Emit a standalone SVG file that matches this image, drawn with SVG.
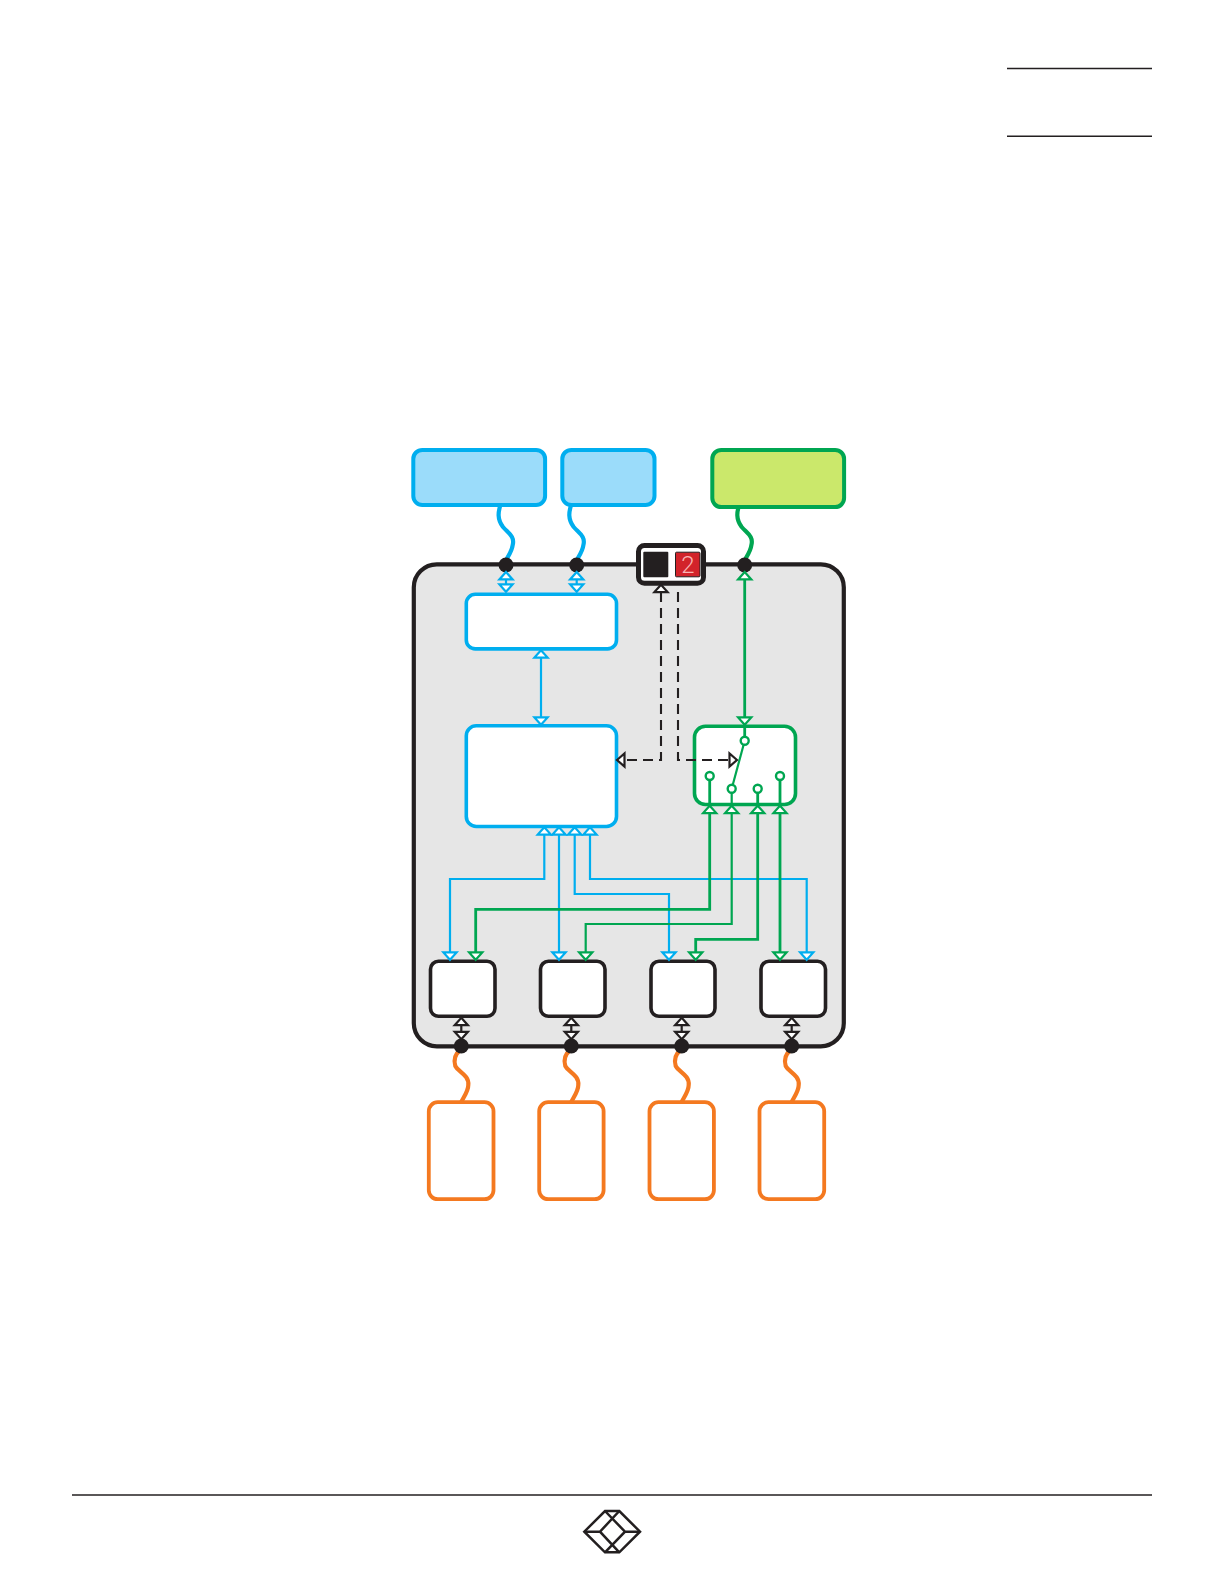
<svg xmlns="http://www.w3.org/2000/svg" width="1224" height="1584" viewBox="0 0 1224 1584">
<style>
.blue{stroke:#00aeef}.green{stroke:#00a651}.black{stroke:#231f20}.orange{stroke:#f47920}
.line{fill:none}
.t1{stroke-width:2.200}.t2{stroke-width:2.800}.w{stroke-width:4.200;stroke-linecap:round}
.box{fill:#fff;stroke-width:3.600}
.head{fill:#fff;stroke-width:2.200;stroke-linejoin:miter}
.dash{fill:none;stroke:#231f20;stroke-width:2.100;stroke-dasharray:10 6}
.dot{fill:#231f20}
.rule{stroke:#231f20;stroke-width:1.400;fill:none}
.pin{fill:#fff;stroke-width:2.400}
</style>
<defs>
<path id="up" d="M0,-3.800 L6.600,3.600 H-6.600 Z"/>
<path id="dn" d="M0,3.800 L6.600,-3.600 H-6.600 Z"/>
<path id="lt" d="M-4,0 L3.500,-6.500 V6.500 Z"/>
<path id="rt" d="M4,0 L-3.500,-6.500 V6.500 Z"/>
<path id="wire" d="M-5,-62 C-8,-53 -9,-46 -3,-38 C2,-32 9,-29 6.700,-20 C6,-14 3,-10 0,-5"/>
<path id="owire" d="M-1,4 C-6,8 -8,13 -6,20 C-3,26 8,29 7,39 C7,45 3,50 0,56"/>
</defs>

<line class="rule" x1="1007" y1="68.500" x2="1152" y2="68.500"/>
<line class="rule" x1="1007" y1="136.300" x2="1152" y2="136.300"/>
<line class="rule" style="stroke-width:1.700" x1="72" y1="1495" x2="1152" y2="1495"/>

<g id="enclosure"><rect x="413.800" y="564.300" width="430" height="482" rx="23" fill="#e6e6e6" stroke="#231f20" stroke-width="4.200"/></g>

<g id="matrix-top"><rect class="box blue" x="466.300" y="594.300" width="150.200" height="54.600" rx="9"/></g>
<g id="matrix-main"><rect class="box blue" x="466.300" y="725.800" width="150.200" height="100.700" rx="10"/></g>
<g id="switch"><rect class="box green" x="694.500" y="726.300" width="101" height="78.200" rx="11"/></g>
<g id="port-1"><rect class="box black" x="430.500" y="961.300" width="64.500" height="55" rx="8"/></g>
<g id="port-2"><rect class="box black" x="540.500" y="961.300" width="64.500" height="55" rx="8"/></g>
<g id="port-3"><rect class="box black" x="651" y="961.300" width="64" height="55" rx="8"/></g>
<g id="port-4"><rect class="box black" x="761" y="961.300" width="64.500" height="55" rx="8"/></g>

<g id="connectors">
<use href="#wire" x="506" y="565" class="line blue w"/>
<use href="#wire" x="576.700" y="565" class="line blue w"/>
<use href="#wire" x="744.700" y="565" class="line green w"/>
<use href="#owire" x="461.300" y="1046" class="line orange w"/>
<use href="#owire" x="571.300" y="1046" class="line orange w"/>
<use href="#owire" x="681.700" y="1046" class="line orange w"/>
<use href="#owire" x="791.700" y="1046" class="line orange w"/>

<path class="line blue t1" d="M506,576V588M576.700,576V588M541,655V721"/>
<path class="line blue t1" d="M544.300,831V879H450V956M559,831V956M574.700,831V894H669V956M590,831V879H806.700V956"/>
<path class="line green t2" d="M744.700,576V737"/>
<path class="line green t2" d="M709.700,780V909.300H475.700V956"/>
<path class="line green t1" d="M731.700,792V924H585.700V956"/>
<path class="line green t2" d="M757.700,792V939.300H695.700V956"/>
<path class="line green t2" d="M780,780V956"/>
<path class="dash" d="M661,592V760H622"/>
<path class="dash" d="M678,592V760H730"/>
<path class="line black t1" d="M461.300,1025V1032M571.300,1025V1032M681.700,1025V1032M791.700,1025V1032"/>
<path class="line green t1" d="M744.700,740.700L731.700,788.700"/>
</g>

<g id="source-a"><rect x="413.300" y="449.900" width="131.800" height="55.100" rx="9" fill="#9bdcfa" stroke="#00aeef" stroke-width="4"/></g>
<g id="source-b"><rect x="562.300" y="449.900" width="92.200" height="55.100" rx="9" fill="#9bdcfa" stroke="#00aeef" stroke-width="4"/></g>
<g id="source-c"><rect x="712.300" y="449.900" width="131.800" height="57.200" rx="9" fill="#cbe86b" stroke="#00a651" stroke-width="4"/></g>
<g id="device-1"><rect class="box orange" style="stroke-width:3.800" x="428.800" y="1102.200" width="64.700" height="97" rx="9"/></g>
<g id="device-2"><rect class="box orange" style="stroke-width:3.800" x="539.200" y="1102.200" width="64.400" height="97" rx="9"/></g>
<g id="device-3"><rect class="box orange" style="stroke-width:3.800" x="649.500" y="1102.200" width="64.400" height="97" rx="9"/></g>
<g id="device-4"><rect class="box orange" style="stroke-width:3.800" x="759.500" y="1102.200" width="64.700" height="97" rx="9"/></g>

<g id="display">
<rect x="638.500" y="545.500" width="65" height="37.700" rx="6" fill="#fff" stroke="#231f20" stroke-width="5"/>
<rect x="643.300" y="551.700" width="25" height="25.600" rx="1" fill="#231f20"/>
<rect x="675.500" y="552.200" width="24.500" height="24.600" rx="1" fill="#d2232a" stroke="#231f20"/>
<text x="687.800" y="573" text-anchor="middle" font-family="Roboto,sans-serif" font-weight="300" font-size="24" fill="#f9b4b4">2</text>
</g>

<g id="junctions">
<circle class="dot" cx="506" cy="565" r="7.500"/><circle class="dot" cx="576.700" cy="565" r="7.500"/><circle class="dot" cx="744.700" cy="565" r="7.500"/>
<circle class="dot" cx="461.300" cy="1046" r="7.500"/><circle class="dot" cx="571.300" cy="1046" r="7.500"/><circle class="dot" cx="681.700" cy="1046" r="7.500"/><circle class="dot" cx="791.700" cy="1046" r="7.500"/>
</g>

<g id="switch-pins">
<circle class="pin green" cx="744.700" cy="740.700" r="4"/>
<circle class="pin green" cx="709.700" cy="776" r="4"/>
<circle class="pin green" cx="731.700" cy="788.700" r="4"/>
<circle class="pin green" cx="757.700" cy="788.700" r="4"/>
<circle class="pin green" cx="780" cy="776" r="4"/>
</g>

<g id="arrowheads">
<g class="head blue">
<use href="#up" x="506" y="575.800"/><use href="#dn" x="506" y="588"/>
<use href="#up" x="576.700" y="575.800"/><use href="#dn" x="576.700" y="588"/>
<use href="#up" x="541" y="654"/><use href="#dn" x="541" y="721"/>
<use href="#up" x="544.300" y="831"/><use href="#up" x="559" y="831"/><use href="#up" x="574.700" y="831"/><use href="#up" x="590" y="831"/>
<use href="#dn" x="450" y="956"/><use href="#dn" x="559" y="956"/><use href="#dn" x="669" y="956"/><use href="#dn" x="806.700" y="956"/>
</g>
<g class="head green">
<use href="#up" x="744.700" y="575.800"/><use href="#dn" x="744.700" y="721"/>
<use href="#up" x="709.700" y="809.500"/><use href="#up" x="731.700" y="809.500"/><use href="#up" x="757.700" y="809.500"/><use href="#up" x="780" y="809.500"/>
<use href="#dn" x="475.700" y="956"/><use href="#dn" x="585.700" y="956"/><use href="#dn" x="695.700" y="956"/><use href="#dn" x="780" y="956"/>
</g>
<g class="head black">
<use href="#up" x="661" y="588.500"/>
<use href="#lt" x="621" y="760"/><use href="#rt" x="733" y="760"/>
<use href="#up" x="461.300" y="1021.600"/><use href="#dn" x="461.300" y="1035.400"/>
<use href="#up" x="571.300" y="1021.600"/><use href="#dn" x="571.300" y="1035.400"/>
<use href="#up" x="681.700" y="1021.600"/><use href="#dn" x="681.700" y="1035.400"/>
<use href="#up" x="791.700" y="1021.600"/><use href="#dn" x="791.700" y="1035.400"/>
</g>
</g>

<g id="logo" fill="none" stroke="#231f20" stroke-width="2.500">
<path d="M605,1511H619.300L640,1531.700L619.300,1552.300H605L584.300,1531.700Z"/>
<path d="M619.300,1511L600,1531.700L619.300,1552.300M605,1511L625,1531.700L605,1552.300M584.300,1531.700H600M625,1531.700H640"/>
</g>
</svg>
